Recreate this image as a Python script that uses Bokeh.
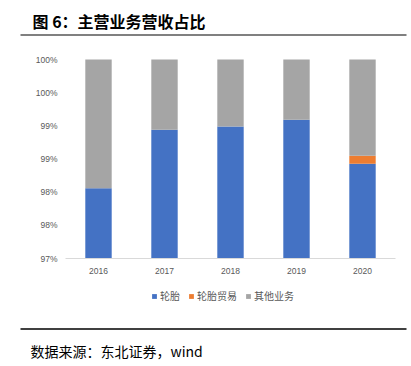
import numpy as np
from bokeh.plotting import figure
from bokeh.models import (Legend, LegendItem, FixedTicker, Range1d, Label,
                          BoxAnnotation, ColumnDataSource)
from bokeh.embed import file_html
from bokeh.resources import INLINE

years = ["2016", "2017", "2018", "2019", "2020"]
tire = [98.06, 98.94, 98.99, 99.09, 98.43]
tire_trade = [0.0, 0.0, 0.0, 0.0, 0.12]
other = [1.94, 1.06, 1.01, 0.91, 1.45]
series = ["轮胎", "轮胎贸易", "其他业务"]
colors = ["#4472C4", "#ED7D31", "#A5A5A5"]
y_ticks = [97.0, 97.5, 98.0, 98.5, 99.0, 99.5, 100.0]
y_tick_labels = ["97%", "98%", "98%", "99%", "99%", "100%", "100%"]
title_text = "图 6：主营业务营收占比"
source_text = "数据来源：东北证券，wind"

CJK = "Noto Sans CJK SC"
W, H = 411, 366
# plot area in canvas pixels
FL, FR, FT, FB = 65, 395, 59, 258
y0, y1 = y_ticks[0], y_ticks[-1]
ncat = len(years)
xpx = (FR - FL) / ncat
ypx = (FB - FT) / (y1 - y0)

p = figure(width=W, height=H, output_backend="svg", toolbar_location=None,
           x_range=Range1d(-FL / xpx, ncat + (W - FR) / xpx),
           y_range=Range1d(y0 - (H - FB) / ypx, y1 + FT / ypx),
           min_border=0, margin=0)
p.outline_line_color = None
p.grid.visible = False

xs = np.arange(ncat) + 0.5
layers = np.array([tire, tire_trade, other])
tops = y0 + np.cumsum(layers - np.array([[y0] * ncat, [0] * ncat, [0] * ncat]), axis=0)
bottoms = np.vstack([[y0] * ncat, tops[:-1]])

rs = []
for i, name in enumerate(series):
    src = ColumnDataSource(dict(x=xs, top=tops[i], bottom=bottoms[i]))
    r = p.vbar(x="x", top="top", bottom="bottom", width=0.4, source=src,
               fill_color=colors[i], line_color=None)
    rs.append(r)

p.yaxis.fixed_location = 0
p.yaxis.ticker = FixedTicker(ticks=y_ticks)
p.yaxis.major_label_overrides = {t: l for t, l in zip(y_ticks, y_tick_labels)}
p.yaxis.axis_line_color = None
p.yaxis.major_tick_line_color = None
p.yaxis.minor_tick_line_color = None
p.yaxis.major_tick_out = 0
p.yaxis.major_label_text_font_size = "8.5px"
p.yaxis.major_label_text_color = "#595959"
p.yaxis.major_label_text_font = "Liberation Sans"
p.yaxis.major_label_standoff = 8

p.xaxis.fixed_location = y0
p.xaxis.bounds = (0, ncat)
p.xaxis.ticker = FixedTicker(ticks=list(xs))
p.xaxis.major_label_overrides = {float(x): y for x, y in zip(xs, years)}
p.xaxis.axis_line_color = "#D9D9D9"
p.xaxis.major_tick_line_color = None
p.xaxis.minor_tick_line_color = None
p.xaxis.major_tick_out = 0
p.xaxis.major_label_text_font_size = "8.5px"
p.xaxis.major_label_text_color = "#595959"
p.xaxis.major_label_text_font = "Liberation Sans"
p.xaxis.major_label_standoff = 9

legend = Legend(items=[LegendItem(label=s, renderers=[r]) for s, r in zip(series, rs)],
                orientation="horizontal", location=(151, H - 303),
                glyph_width=6, glyph_height=6, label_height=12,
                label_text_font_size="10px", label_text_color="#595959",
                label_text_font=CJK, label_standoff=3, spacing=8,
                padding=0, margin=0, border_line_color=None, background_fill_alpha=0)
p.add_layout(legend, "center")

# title and rules
p.add_layout(Label(x=32, y=H - 20, x_units="screen", y_units="screen",
                   text=title_text, text_font=CJK, text_font_style="bold",
                   text_font_size="16px", text_baseline="middle", text_color="#000000"))
p.add_layout(BoxAnnotation(left=20, right=406, bottom=H - 35.5, top=H - 33.5,
                           left_units="screen", right_units="screen",
                           bottom_units="screen", top_units="screen",
                           fill_color="#808080", fill_alpha=1, line_color=None))
p.add_layout(BoxAnnotation(left=20, right=406, bottom=H - 329.5, top=H - 327.5,
                           left_units="screen", right_units="screen",
                           bottom_units="screen", top_units="screen",
                           fill_color="#404040", fill_alpha=1, line_color=None))
p.add_layout(Label(x=30, y=H - 350, x_units="screen", y_units="screen",
                   text=source_text, text_font=CJK, text_font_size="14px",
                   text_baseline="middle", text_color="#000000"))

open("out.html", "w").write(file_html(p, INLINE))
